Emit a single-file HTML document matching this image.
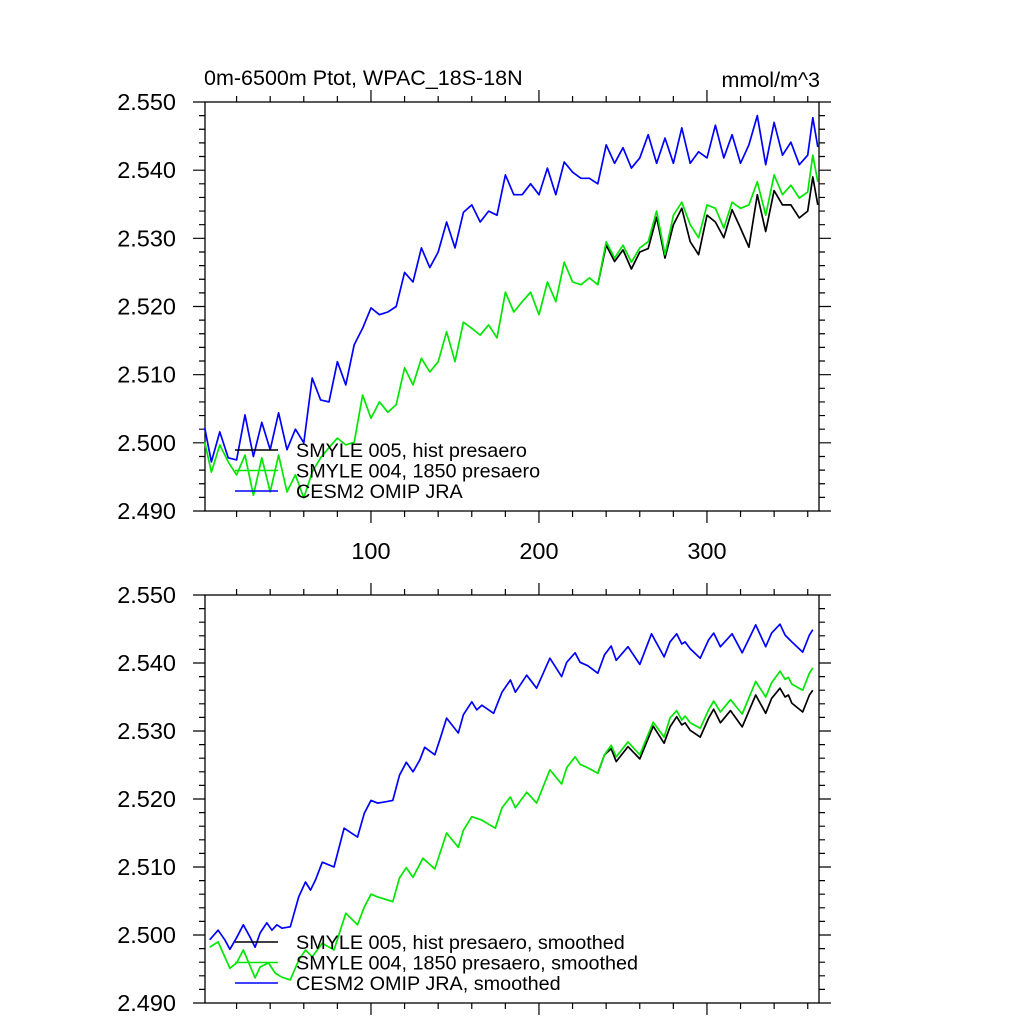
<!DOCTYPE html>
<html><head><meta charset="utf-8"><style>
html,body{margin:0;padding:0;background:#fff;width:1024px;height:1024px;overflow:hidden}
svg text{font-family:"Liberation Sans",sans-serif;fill:#000}
</style></head><body>
<svg id="chart" width="1024" height="1024" viewBox="0 0 1024 1024" xmlns="http://www.w3.org/2000/svg">
<text x="204" y="85" font-size="21.5">0m-6500m Ptot, WPAC_18S-18N</text>
<text x="820" y="87" font-size="21.5" text-anchor="end">mmol/m^3</text>
</svg>
<script>
// ---- Top panel data (raw) ----
const topT = [1,5,10,15,20,25,30,35,40,45,50,55,60,65,70,75,80,85,90,95,100,105,110,115,120,125,130,135,140,145,150,155,160,165,170,175,180,185,190,195,200,205,210,215,220,225,230,235,240,245,250,255,260,265,270,275,280,285,290,295,300,305,310,315,320,325,330,335,340,345,350,355,360,363,366];
const topBlue = [2.5022,2.4972,2.5016,2.4978,2.4975,2.5041,2.498,2.503,2.499,2.5044,2.499,2.502,2.500,2.5095,2.5063,2.506,2.5119,2.5085,2.5144,2.5168,2.5198,2.5188,2.5192,2.520,2.525,2.5236,2.5286,2.5257,2.528,2.5324,2.5286,2.5338,2.5349,2.5324,2.534,2.5334,2.5393,2.5364,2.5364,2.538,2.5364,2.5403,2.5364,2.5412,2.5397,2.5388,2.5388,2.538,2.5437,2.541,2.5433,2.5403,2.5418,2.5452,2.541,2.5447,2.541,2.5462,2.541,2.5427,2.5418,2.5466,2.5418,2.5452,2.541,2.5437,2.548,2.5408,2.547,2.5422,2.5441,2.5408,2.5422,2.5477,2.5434];
const topGreen = [2.5001,2.4957,2.4997,2.4972,2.4953,2.4982,2.4923,2.4978,2.4928,2.4982,2.4928,2.4953,2.4919,2.4957,2.4978,2.4993,2.5007,2.4997,2.5001,2.507,2.5036,2.506,2.5045,2.5056,2.511,2.5085,2.5124,2.5104,2.5119,2.5163,2.5119,2.5177,2.5168,2.5158,2.5173,2.5154,2.5221,2.5192,2.5207,2.5221,2.5188,2.5236,2.5207,2.5265,2.5236,2.5232,2.5242,2.5232,2.5295,2.5271,2.529,2.5265,2.5286,2.5295,2.534,2.5276,2.5334,2.5353,2.532,2.5301,2.5349,2.5344,2.5315,2.5353,2.5344,2.5349,2.5383,2.5334,2.5393,2.5364,2.5378,2.5359,2.5368,2.5422,2.5383];
const topBlackT = [235,240,245,250,255,260,265,270,275,280,285,290,295,300,305,310,315,320,325,330,335,340,345,350,355,360,363,366];
const topBlack = [2.5232,2.529,2.5266,2.5283,2.5255,2.528,2.5285,2.5331,2.5271,2.532,2.5344,2.5295,2.5276,2.5334,2.5324,2.5301,2.5342,2.5315,2.5287,2.5364,2.531,2.537,2.5349,2.5349,2.533,2.534,2.539,2.5349];
// ---- Bottom panel data (smoothed) ----
const botBlueT = [4,9,13,16,20,24,28,31,34,38,41,44,47,52,57,61,64,67,71,78,84,92,96,100,104,109,113,117,121,125,129,132,138,141,145,152,155,160,163,166,173,178,183,186,192.7,198.6,206.5,213.5,216.5,221.5,224.5,229,235,239,243,246,253,260,267,274.5,278,282,285,287,290,296,301,304,308,315,321,329,335,338.5,343.5,346.5,350.5,357,361,363];
const botBlue = [2.4993,2.5007,2.4993,2.4979,2.4996,2.5015,2.4997,2.4982,2.5003,2.5018,2.5007,2.5015,2.501,2.5012,2.5056,2.5078,2.5066,2.5081,2.5107,2.51,2.5157,2.5144,2.5179,2.5198,2.5194,2.5196,2.5198,2.5235,2.5254,2.524,2.5257,2.5276,2.5265,2.5287,2.5319,2.5297,2.5324,2.5343,2.5331,2.5338,2.5326,2.5357,2.5375,2.5357,2.5382,2.5363,2.5407,2.538,2.5401,2.5415,2.5401,2.5396,2.5385,2.5412,2.5425,2.5404,2.5424,2.5398,2.5443,2.5409,2.5431,2.5443,2.5428,2.5431,2.5421,2.5407,2.5434,2.5444,2.5424,2.5443,2.5415,2.5456,2.5424,2.5444,2.5457,2.5441,2.5431,2.5416,2.5441,2.5449];
const botGreenT = [4,9,16,20,24,31,34,39,43,47,52,57,61,65,71,78,85,92,96,100,104,113,117,121,125,131,138,145,152,155,160,166,174,178,183,186,192.7,198.6,206.5,213.5,216.5,221.5,224.5,229,235,239,243,246,253,260,268,274.5,278,282,285,287,290,296,301,304,308,314,321,329,335,338.5,343.5,346.5,348.5,350.5,357,361,363];
const botGreen = [2.4982,2.499,2.4951,2.4959,2.4978,2.4937,2.4953,2.4959,2.4944,2.4938,2.4934,2.4963,2.4978,2.4968,2.4988,2.4978,2.5032,2.5015,2.5041,2.506,2.5056,2.5049,2.5084,2.5099,2.5085,2.5113,2.5097,2.515,2.5129,2.5154,2.5174,2.5169,2.5157,2.5187,2.5203,2.5187,2.521,2.5194,2.5243,2.5222,2.5246,2.5262,2.5251,2.5246,2.5238,2.5265,2.5279,2.5262,2.5284,2.5265,2.5313,2.5291,2.5319,2.533,2.5316,2.5322,2.5312,2.5304,2.5331,2.5344,2.5328,2.5346,2.5325,2.5373,2.535,2.5371,2.5388,2.5376,2.5379,2.5369,2.536,2.5385,2.5393];
const botBlackT = [235,239,243,246,253,260,268,274.5,278,282,285,287,290,296,301,304,308,314,321,329,335,338.5,343.5,346.5,348.5,350.5,357,361,363];
const botBlack = [2.5238,2.5265,2.5274,2.5255,2.5277,2.5259,2.5307,2.5282,2.5306,2.5321,2.5309,2.5312,2.5301,2.5291,2.5319,2.5332,2.5312,2.533,2.5306,2.5353,2.5326,2.5348,2.5363,2.535,2.5353,2.5341,2.5328,2.5353,2.536];
const yTicks = [2.490,2.500,2.510,2.520,2.530,2.540,2.550];
const yTickLabels = ["2.490","2.500","2.510","2.520","2.530","2.540","2.550"];
const xTicks = [100,200,300];
const xTickLabels = ["100","200","300"];
const topLegend = ["SMYLE 005, hist presaero","SMYLE 004, 1850 presaero","CESM2 OMIP JRA"];
const botLegend = ["SMYLE 005, hist presaero, smoothed","SMYLE 004, 1850 presaero, smoothed","CESM2 OMIP JRA, smoothed"];

const NS = "http://www.w3.org/2000/svg";
const svg = document.getElementById('chart');
const X0 = 205, X1 = 819, TMIN = 1.2, TMAX = 366.7;
const YMIN = 2.490, YMAX = 2.550;
function sx(t){ return X0 + (t - TMIN) / (TMAX - TMIN) * (X1 - X0); }
function mk(tag, attrs){ const e = document.createElementNS(NS, tag); for (const k in attrs) e.setAttribute(k, attrs[k]); svg.appendChild(e); return e; }

function panel(name, top, bot, showXLabels, series, legend, legY){
  const sy = v => bot - (v - YMIN) / (YMAX - YMIN) * (bot - top);
  const g = mk('g', {});
  
  
  let ticks = '';
  for (let v = 0; v <= 30; v++) {
    const val = YMIN + v * 0.002, y = sy(val), len = (v % 5 === 0) ? 12 : 6;
    ticks += `M${X0} ${y}h${-len}M${X1} ${y}h${len}`;
  }
  for (let t = 20; t <= 360; t += 20) {
    const x = sx(t), len = (t % 100 === 0) ? 12 : 6;
    ticks += `M${x} ${top}v${-len}M${x} ${bot}v${len}`;
  }
  const tp = mk('path', {d: ticks, stroke: '#000', 'stroke-width': 1.2, fill: 'none'});
  
  
  const fr = mk('rect', {x: X0, y: top, width: X1 - X0, height: bot - top, fill: 'none', stroke: '#000', 'stroke-width': 1.3});
  
  
  yTicks.forEach((v, i) => {
    const t = mk('text', {x: 176, y: sy(v) + 8, 'font-size': 23.5, 'text-anchor': 'end'});
    t.textContent = yTickLabels[i];
    
    
  });
  if (showXLabels) xTicks.forEach((v, i) => {
    const t = mk('text', {x: sx(v), y: bot + 48, 'font-size': 23.5, 'text-anchor': 'middle'});
    t.textContent = xTickLabels[i];
    
    
  });
  series.forEach(s => {
    const d = s.t.map((t, i) => (i ? 'L' : 'M') + sx(t).toFixed(1) + ' ' + sy(s.v[i]).toFixed(1)).join('');
    const p = mk('path', {d: d, stroke: s.c, 'stroke-width': 1.7, fill: 'none', 'stroke-linejoin': 'round'});
    
    
  });
  const cols = ['#000', '#00e600', '#0000ff'];
  legend.forEach((lab, i) => {
    const y = legY + i * 20.5;
    const l = mk('line', {x1: 235, x2: 278, y1: y, y2: y, stroke: cols[i], 'stroke-width': 1.6});
    
    
    const t = mk('text', {x: 296, y: y + 7, 'font-size': 19.8});
    t.textContent = lab;
    
    
  });
}
panel('top', 102, 511, true, [
  {n: 'omip-jra-line', t: topT, v: topBlue, c: '#0000ff'},
  {n: 'smyle005-line', t: topBlackT, v: topBlack, c: '#000'},
  {n: 'smyle004-line', t: topT, v: topGreen, c: '#00e600'}
], topLegend, 450);
panel('bottom', 595, 1003, false, [
  {n: 'omip-jra-smoothed-line', t: botBlueT, v: botBlue, c: '#0000ff'},
  {n: 'smyle005-smoothed-line', t: botBlackT, v: botBlack, c: '#000'},
  {n: 'smyle004-smoothed-line', t: botGreenT, v: botGreen, c: '#00e600'}
], botLegend, 942);
</script>
</body></html>
